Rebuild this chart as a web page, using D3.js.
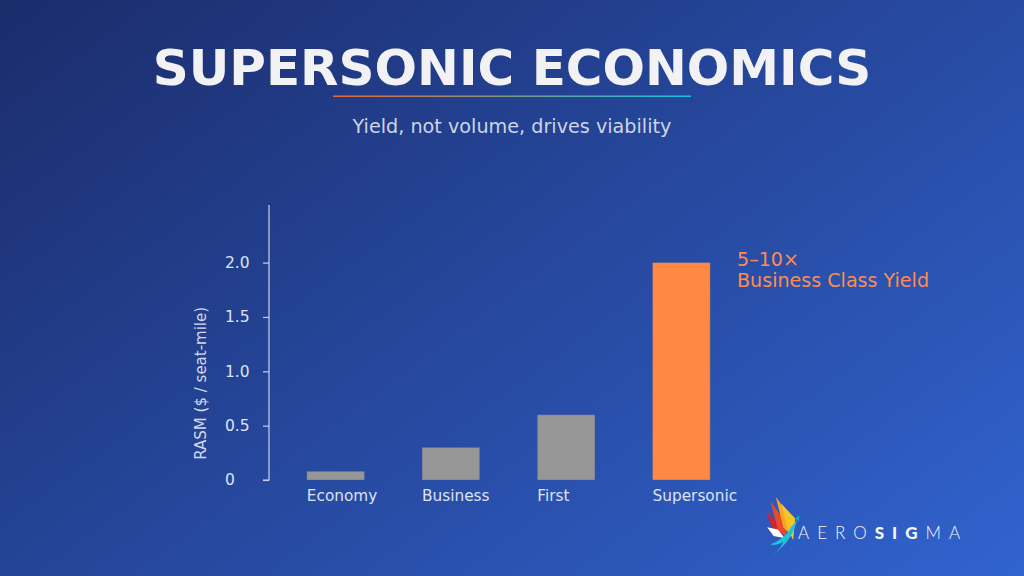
<!DOCTYPE html>
<html>
<head>
<meta charset="utf-8">
<script src="https://cdn.jsdelivr.net/npm/d3@7"></script>
<style>
  html,body{margin:0;padding:0;overflow:hidden;}
  svg{display:block;font-family:"DejaVu Sans",sans-serif;}
</style>
</head>
<body>
<div id="chart"></div>
<script>
// data
var categories=["Economy","Business","First","Supersonic"];
var rasm=[0.08,0.30,0.60,2.00];
var barColors=["#969696","#969696","#969696","#ff8844"];
var yTicks=[0,0.5,1,1.5,2];
var annotationLines=["5–10×","Business Class Yield"];

var W=1024,H=576;
var svg=d3.select("#chart").append("svg").attr("width",W).attr("height",H);
var defs=svg.append("defs");

// background
var bg=defs.append("linearGradient").attr("id","bg")
    .attr("gradientUnits","userSpaceOnUse")
    .attr("x1",0).attr("y1",0).attr("x2",642).attr("y2",861);
bg.append("stop").attr("offset",0).attr("stop-color","#1b2c6b");
bg.append("stop").attr("offset",1).attr("stop-color","#3163cf");
svg.append("rect").attr("width",W).attr("height",H).attr("fill","url(#bg)");

var ul=defs.append("linearGradient").attr("id","ul");
ul.append("stop").attr("offset",0).attr("stop-color","#e8683a");
ul.append("stop").attr("offset",0.5).attr("stop-color","#7a9a8a");
ul.append("stop").attr("offset",1).attr("stop-color","#19c3e6");

// title block
svg.append("text").attr("x",512).attr("y",85).attr("text-anchor","middle")
    .attr("font-size",50).attr("font-weight","bold").attr("fill","#f2f2f4")
    .text("SUPERSONIC ECONOMICS");
svg.append("rect").attr("x",333).attr("y",95.5).attr("width",358).attr("height",1.5).attr("fill","url(#ul)");
svg.append("text").attr("x",512).attr("y",133).attr("text-anchor","middle")
    .attr("font-size",19.2).attr("fill","#cdd5e6")
    .text("Yield, not volume, drives viability");

// scales
var x=d3.scaleBand().domain(categories).range([278,739]).paddingInner(0.5).paddingOuter(0.25);
var y=d3.scaleLinear().domain([0,2.53]).range([480,205]);

var g=svg.append("g");

// y axis
var yAxis=d3.axisLeft(y).tickValues(yTicks).tickSize(6).tickPadding(0)
    .tickFormat(function(d){return d===0?"0":d3.format(".1f")(d);});
var ax=g.append("g").attr("transform","translate(269,0)").call(yAxis);
ax.select(".domain").attr("stroke","#c9d1e3").attr("stroke-width",1.2).attr("d","M-6,"+y(0)+"H0V"+y.range()[1]);
ax.selectAll(".tick line").attr("stroke","#c9d1e3").attr("stroke-width",1.2);
ax.selectAll(".tick text").attr("x",-44).attr("text-anchor","start")
    .attr("font-size",15.5).attr("fill","#dde4f2").attr("font-family","DejaVu Sans, sans-serif");

svg.append("text").attr("transform","translate(206,"+ (y(1.0)+12) +") rotate(-90)")
    .attr("text-anchor","middle").attr("font-size",15).attr("fill","#d2d9ea")
    .text("RASM ($ / seat-mile)");

// bars
g.selectAll(".bar").data(rasm).enter().append("rect")
    .attr("class","bar")
    .attr("x",function(d,i){return x(categories[i]);})
    .attr("y",function(d){return y(d);})
    .attr("width",x.bandwidth())
    .attr("height",function(d){return y(0)-y(d);})
    .attr("fill",function(d,i){return barColors[i];})
    .attr("stroke","rgba(70,90,150,0.45)").attr("stroke-width",0.8);

// category labels (left aligned to the bar)
g.selectAll(".cat").data(categories).enter().append("text")
    .attr("class","cat")
    .attr("x",function(d){return x(d);})
    .attr("y",501)
    .attr("font-size",15.3).attr("fill","#dde4f2")
    .text(function(d){return d;});

// annotation
var ann=svg.append("text").attr("x",737).attr("y",266).attr("font-size",19.1).attr("fill","#ff8c4c");
ann.selectAll("tspan").data(annotationLines).enter().append("tspan")
    .attr("x",737).attr("dy",function(d,i){return i?21:0;})
    .text(function(d){return d;});

// logo
var logo=svg.append("g").attr("transform","translate(765,497) scale(1.08)");
logo.append("path").attr("d","M1,12 L14,26 L16,36 L6,28 Z").attr("fill","#c8263a");
logo.append("path").attr("d","M5,4 L18,22 L20,38 L12,30 Z").attr("fill","#e84a2a");
logo.append("path").attr("d","M10,0 L22,16 L26,38 L17,28 Z").attr("fill","#f5a623");
logo.append("path").attr("d","M15,6 L28,20 L26,40 L20,26 Z").attr("fill","#f7c52a");
logo.append("path").attr("d","M2,28 L12,30 L18,38 L8,36 Z").attr("fill","#ffffff");
logo.append("path").attr("d","M30,21 C27,30 24,38 18,44 C14,48 10,52 6,56 C12,50 15,46 17,42 C12,44 8,45 5,44 C14,40 20,36 24,28 Z").attr("fill","#1ec3d6");
logo.append("path").attr("d","M28,20 L32,17 L31,23 Z").attr("fill","#1aa7c8");

var lt=svg.append("text").attr("x",798).attr("y",539).attr("font-size",17)
    .attr("font-family","Lato, sans-serif").attr("letter-spacing",8).attr("fill","#f4f6fb");
lt.append("tspan").attr("font-weight",300).text("AERO");
lt.append("tspan").attr("font-weight",900).text("SIG");
lt.append("tspan").attr("font-weight",300).text("MA");
</script>
</body>
</html>
